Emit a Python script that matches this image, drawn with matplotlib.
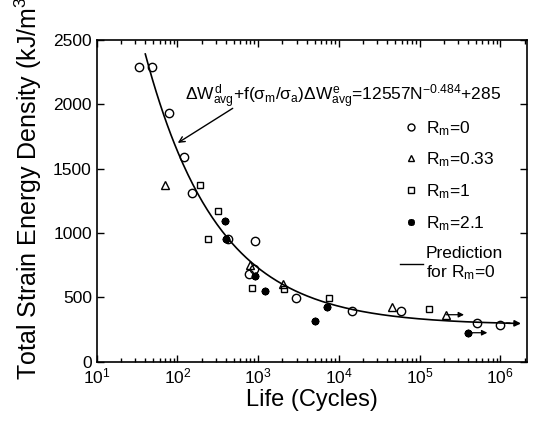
import numpy as np
import matplotlib
matplotlib.use('Agg')
import matplotlib.pyplot as plt
from matplotlib.lines import Line2D


FONT = 'Liberation Sans'
plt.rcParams['font.family'] = [FONT, 'DejaVu Sans']
plt.rcParams['mathtext.fontset'] = 'custom'
plt.rcParams['mathtext.rm'] = FONT
plt.rcParams['mathtext.it'] = FONT
plt.rcParams['mathtext.bf'] = FONT


# Test data: life (cycles) vs total strain energy density (kJ/m^3)
life_r0 = [33.5, 48, 78, 120, 150, 427, 927, 769, 880, 2924, 14650, 58000, 508000, 1000000]
sed_r0 = [2293, 2288, 1930, 1593, 1308, 953, 940, 681, 718, 492, 394, 394, 303, 282]

life_r033 = [71, 800, 2050, 45300, 214000]
sed_r033 = [1373, 751, 604, 422, 365]

life_r1 = [190, 318, 239, 840, 2073, 7590, 131000]
sed_r1 = [1373, 1174, 956, 570, 565, 497, 412]

life_r21 = [390, 398, 927, 1230, 5120, 7080, 398000]
sed_r21 = [1091, 956, 666, 552, 319, 427, 225]

# Run-outs (specimens that did not fail): start / end of the arrow
runout_start = [(214000, 365), (398000, 225)]
runout_end = [355000, 690000]

# Prediction for Rm=0
A_COEF = 12557
B_EXP = -0.484
C_OFF = 285
N_START = 40
N_END = 1.8e6


def prediction(n):
	return A_COEF * np.power(n, B_EXP) + C_OFF


fig = plt.figure(figsize=(5.39, 4.21), dpi=100)
ax = fig.add_axes([0.1794, 0.1409, 0.7983, 0.7641])

mk = dict(linestyle='none', color='k', markerfacecolor='none', markeredgewidth=1.0)
ax.plot(life_r0, sed_r0, marker='o', markersize=6, **mk)
ax.plot(life_r033, sed_r033, marker='^', markersize=6, **mk)
ax.plot(life_r1, sed_r1, marker='s', markersize=5, **mk)
ax.plot(life_r21, sed_r21, linestyle='none', marker=(8, 2, 0), markersize=5.5,
	color='k', markeredgewidth=1.4)

for (x0, y0), x1 in zip(runout_start, runout_end):
	ax.annotate('', xy=(x1, y0), xytext=(x0, y0),
		arrowprops=dict(arrowstyle='-|>', color='k', lw=0.9,
			mutation_scale=8, shrinkA=0, shrinkB=0))

n = np.logspace(np.log10(N_START), np.log10(1.3e6), 300)
ax.plot(n, prediction(n), color='k', lw=1.2)
ax.annotate('', xy=(N_END, prediction(N_END)), xytext=(1.2e6, prediction(1.2e6)),
	arrowprops=dict(arrowstyle='-|>', color='k', lw=1.2,
		mutation_scale=9, shrinkA=0, shrinkB=0))

# Equation with pointer to the curve
ax.text(11400, 2026,
	r'$\Delta W^{d}_{avg}$+f($\sigma_{m}$/$\sigma_{a}$)$\Delta W^{e}_{avg}$=12557N$^{-0.484}$+285',
	fontsize=12.5, ha='center', va='baseline')
ax.annotate('', xy=(101, 1700), xytext=(484, 1969),
	arrowprops=dict(arrowstyle='->', color='k', lw=1.0, shrinkA=0, shrinkB=0))

handles = [
	Line2D([], [], marker='o', markersize=5, **mk),
	Line2D([], [], marker='^', markersize=5, **mk),
	Line2D([], [], marker='s', markersize=4, **mk),
	Line2D([], [], linestyle='none', marker=(8, 2, 0), markersize=5, color='k', markeredgewidth=1.3),
	Line2D([], [], color='k', lw=1.0),
]
labels = [r'R$_\mathrm{m}$=0', r'R$_\mathrm{m}$=0.33', r'R$_\mathrm{m}$=1', r'R$_\mathrm{m}$=2.1',
	'Prediction\nfor R$_\\mathrm{m}$=0']
ax.legend(handles, labels, loc='upper left', bbox_to_anchor=(0.705, 0.755), frameon=False,
	fontsize=12.5, handlelength=1.3, handletextpad=0.2, labelspacing=0.75,
	borderaxespad=0, borderpad=0)

ax.set_xscale('log')
ax.set_xlim(10, 10 ** 6.33)
ax.set_ylim(0, 2500)
ax.set_yticks([0, 500, 1000, 1500, 2000, 2500])
ax.tick_params(which='both', direction='in', top=True, right=True, labelsize=12.5)
ax.tick_params(which='major', length=5, width=1.0)
ax.tick_params(which='minor', length=3, width=1.0)
for s in ax.spines.values():
	s.set_linewidth(1.2)

ax.text(0.5, -0.118, 'Life (Cycles)', transform=ax.transAxes, ha='center', va='center',
	fontsize=17)
ax.text(-0.16, 0.552, 'Total Strain Energy Density (kJ/m$^3$)', transform=ax.transAxes,
	ha='center', va='center', rotation=90, fontsize=18)

fig.savefig('out.png', dpi=100)
